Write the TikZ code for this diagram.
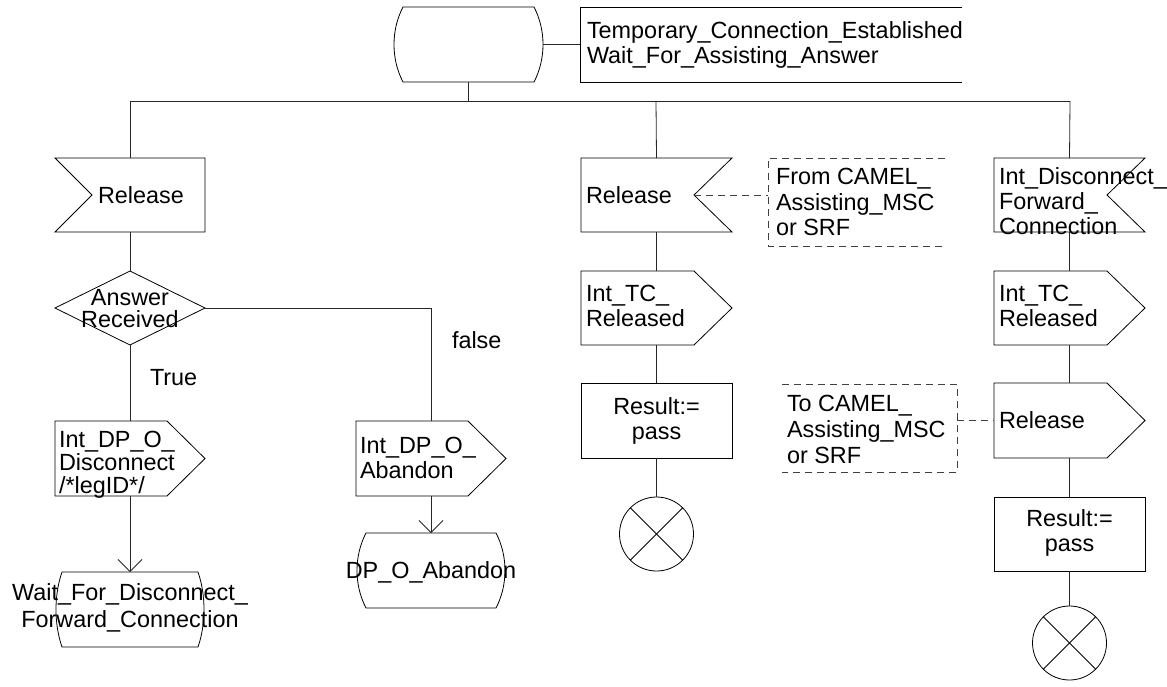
\documentclass[tikz,border=0pt]{standalone}
\usepackage{fontspec}
\setmainfont{Liberation Sans}
\usetikzlibrary{arrows.meta,calc}
\begin{document}
\begin{tikzpicture}[x=1pt,y=-1pt,
  shp/.style={draw=black, line width=0.8pt, line join=miter},
  dshp/.style={draw=black!75, line width=0.8pt, dash pattern=on 7pt off 5pt},
  frame/.style={draw=none, inner sep=0pt, outer sep=0pt},
  txt/.style={inner sep=0pt, outer sep=0pt, align=left, font=\fontsize{23.4}{25}\selectfont},
  ctxt/.style={txt, align=center},
  conn/.style={draw=black!85, line width=0.8pt},
  dconn/.style={draw=black!75, line width=0.8pt, dash pattern=on 7pt off 5pt},
  arr/.style={conn, -{Straight Barb[length=12pt,width=24pt]}}
]
\useasboundingbox (0,0) rectangle (1167,686);

% ---- top state and comment
\node[frame, minimum width=150, minimum height=75] (s0) at (468,44.5) {};
\draw[shp] (403,7) -- (534,7) .. controls (546,30) and (546,59) .. (534,82) -- (403,82) .. controls (391,59) and (391,30) .. (403,7) -- cycle;
\node[frame, minimum width=382, minimum height=75] (c0) at (771,44.5) {};
\draw[shp] (c0.north east) -- (c0.north west) -- (c0.south west) -- (c0.south east);
\node[txt, anchor=west] (c0t) at (587,44.5) {Temporary\_Connection\_Established\\Wait\_For\_Assisting\_Answer};
\draw[conn] (s0.east) -- (c0.west);

% ---- bus
\coordinate (bL) at (130,101);
\coordinate (bM) at (656,101);
\coordinate (bR) at (1070,101);
\coordinate (b0) at (468,101);
\draw[conn] (s0.south) -- (b0);
\draw[conn] (bL) -- (bR);

% ---- column 1
\node[frame, minimum width=150, minimum height=74] (i1) at (130,195) {};
\draw[shp] (i1.north west) -- (i1.north east) -- (i1.south east) -- (i1.south west) -- ($(i1.west)+(37,0)$) -- cycle;
\node[txt, anchor=west] (i1t) at (98,195) {Release};

\node[frame, minimum width=150, minimum height=74] (d1) at (130,308) {};
\draw[shp] (d1.north) -- (d1.east) -- (d1.south) -- (d1.west) -- cycle;
\node[ctxt, font=\fontsize{23.4}{22}\selectfont] (d1t) at (130,309) {Answer\\Received};

\node[frame, minimum width=150, minimum height=75] (o1) at (130,458.5) {};
\draw[shp] (o1.north west) -- ($(o1.north east)+(-38,0)$) -- (o1.east) -- ($(o1.south east)+(-38,0)$) -- (o1.south west) -- cycle;
\node[txt, anchor=west, font=\fontsize{23.4}{23}\selectfont] (o1t) at (59,465) {Int\_DP\_O\_\\Disconnect\\/*legID*/};

\node[frame, minimum width=150, minimum height=75] (w1) at (130,609.5) {};
\draw[shp] (62,572) -- (198,572) .. controls (206,595) and (206,624) .. (198,647) -- (62,647) .. controls (54,624) and (54,595) .. (62,572) -- cycle;
\node[ctxt, font=\fontsize{23.4}{27}\selectfont] (w1t) at (130,608) {Wait\_For\_Disconnect\_\\Forward\_Connection};

\node[txt, anchor=west] (lt) at (150,378) {True};
\node[txt, anchor=west] (lf) at (452,340) {false};

% ---- Abandon branch
\node[frame, minimum width=150, minimum height=75] (o2) at (431,458.5) {};
\draw[shp] (o2.north west) -- ($(o2.north east)+(-38,0)$) -- (o2.east) -- ($(o2.south east)+(-38,0)$) -- (o2.south west) -- cycle;
\node[txt, anchor=west] (o2t) at (360,457.5) {Int\_DP\_O\_\\Abandon};

\node[frame, minimum width=150, minimum height=75] (a2) at (431,570.5) {};
\draw[shp] (366,533) -- (496,533) .. controls (508,556) and (508,585) .. (496,608) -- (366,608) .. controls (354,585) and (354,556) .. (366,533) -- cycle;
\node[ctxt] (a2t) at (431,572) {DP\_O\_Abandon};

\draw[conn] (bL) -- (i1.north);
\draw[conn] (i1.south) -- (d1.north);
\draw[conn] (d1.south) -- (o1.north);
\draw[conn] (d1.east) -| (o2.north);
\draw[arr] (o1.south) -- (w1.north);
\draw[arr] (o2.south) -- (a2.north);

% ---- column 2
\node[frame, minimum width=151, minimum height=74] (i2) at (656.5,195) {};
\coordinate (i2n) at ($(i2.east)+(-38,0)$);
\draw[shp] (i2.north west) -- (i2.north east) -- (i2n) -- (i2.south east) -- (i2.south west) -- cycle;
\node[txt, anchor=west] (i2t) at (586,195) {Release};

\node[frame, minimum width=177, minimum height=88] (f2) at (856.5,202) {};
\draw[dshp] (f2.north east) -- (f2.north west) -- (f2.south west) -- (f2.south east);
\node[txt, anchor=west, font=\fontsize{23.4}{25.5}\selectfont] (f2t) at (776,202) {From CAMEL\_\\Assisting\_MSC\\or SRF};
\draw[dconn] (i2n) -- (i2n -| f2.west);

\node[frame, minimum width=151, minimum height=74] (o3) at (656.5,308) {};
\draw[shp] (o3.north west) -- ($(o3.north east)+(-38,0)$) -- (o3.east) -- ($(o3.south east)+(-38,0)$) -- (o3.south west) -- cycle;
\node[txt, anchor=west] (o3t) at (586,305.5) {Int\_TC\_\\Released};

\node[frame, minimum width=151, minimum height=75] (t2) at (656.5,420.5) {};
\draw[shp] (t2.north west) rectangle (t2.south east);
\node[ctxt] (t2t) at (656.5,420.5) {Result:=\\pass};

\node[circle, draw=black, line width=0.8pt, minimum size=74, inner sep=0pt, outer sep=0pt] (x2) at (656.5,534) {};
\draw[shp] (x2.north west) -- (x2.south east);
\draw[shp] (x2.north east) -- (x2.south west);

\draw[conn] (bM) -- (i2.north);
\draw[conn] (i2.south) -- (o3.north);
\draw[conn] (o3.south) -- (t2.north);
\draw[conn] (t2.south) -- (x2.north);

% ---- column 3
\node[frame, minimum width=151, minimum height=74] (i3) at (1069.5,195) {};
\coordinate (i3n) at ($(i3.east)+(-38,0)$);
\draw[shp] (i3.north west) -- (i3.north east) -- (i3n) -- (i3.south east) -- (i3.south west) -- cycle;
\node[txt, anchor=west] (i3t) at (999,201) {Int\_Disconnect\_\\Forward\_\\Connection};

\node[frame, minimum width=151, minimum height=74] (o4) at (1069.5,308) {};
\draw[shp] (o4.north west) -- ($(o4.north east)+(-38,0)$) -- (o4.east) -- ($(o4.south east)+(-38,0)$) -- (o4.south west) -- cycle;
\node[txt, anchor=west] (o4t) at (999,305.5) {Int\_TC\_\\Released};

\node[frame, minimum width=151, minimum height=75] (o5) at (1069.5,420.5) {};
\draw[shp] (o5.north west) -- ($(o5.north east)+(-38,0)$) -- (o5.east) -- ($(o5.south east)+(-38,0)$) -- (o5.south west) -- cycle;
\node[txt, anchor=west] (o5t) at (999,420.5) {Release};

\node[frame, minimum width=175, minimum height=88] (tb) at (869.5,428) {};
\draw[dshp] (tb.north west) -- (tb.north east) -- (tb.south east) -- (tb.south west);
\node[txt, anchor=west, font=\fontsize{23.4}{26}\selectfont] (tbt) at (787,429) {To CAMEL\_\\Assisting\_MSC\\or SRF};
\draw[dconn] (o5.west -| tb.east) -- (o5.west);

\node[frame, minimum width=151, minimum height=74] (t3) at (1069.5,534) {};
\draw[shp] (t3.north west) rectangle (t3.south east);
\node[ctxt] (t3t) at (1069.5,533) {Result:=\\pass};

\node[circle, draw=black, line width=0.8pt, minimum size=74, inner sep=0pt, outer sep=0pt] (x3) at (1069.5,643) {};
\draw[shp] (x3.north west) -- (x3.south east);
\draw[shp] (x3.north east) -- (x3.south west);

\draw[conn] (bR) -- (i3.north);
\draw[conn] (i3.south) -- (o4.north);
\draw[conn] (o4.south) -- (o5.north);
\draw[conn] (o5.south) -- (t3.north);
\draw[conn] (t3.south) -- (x3.north);
\end{tikzpicture}
\end{document}
